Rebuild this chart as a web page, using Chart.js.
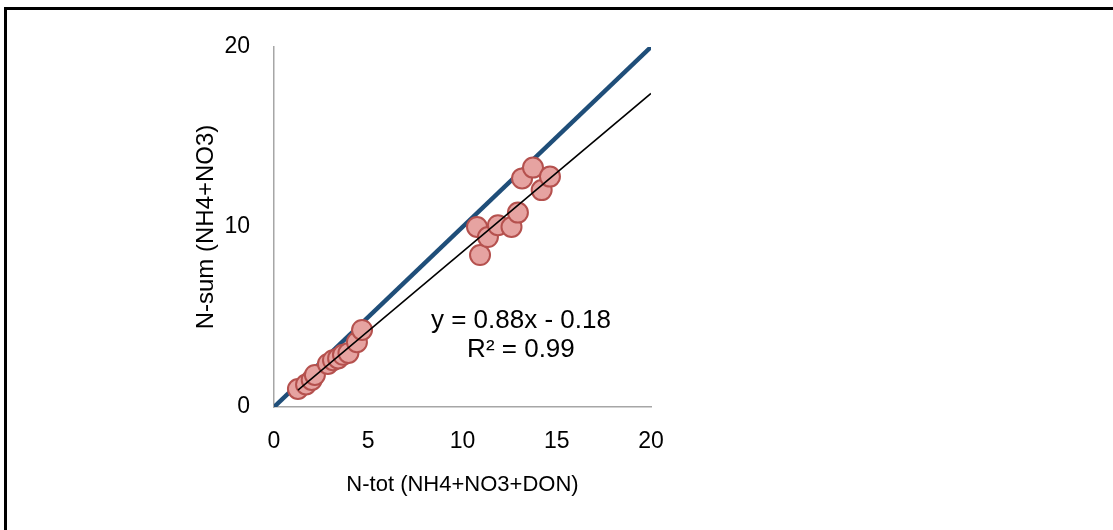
<!DOCTYPE html>
<html>
<head>
<meta charset="utf-8">
<script src="https://cdn.jsdelivr.net/npm/chart.js@4.4.1/dist/chart.umd.min.js"></script>
<style>
  html, body { margin: 0; padding: 0; background: #fff; overflow: hidden; }
  #frame { position: absolute; left: 4px; top: 7px; width: 1200px; height: 600px; border: 3px solid #000; }
  #wrap { position: absolute; left: 0; top: 0; width: 1113px; height: 530px; }
</style>
</head>
<body>
<div id="frame"></div>
<div id="wrap"><canvas id="chart" width="1113" height="530"></canvas></div>
<script>
const FONT = "'Liberation Sans', Arial, sans-serif";

const nTot = [1.27, 1.7, 2.0, 2.17, 2.86, 3.13, 3.4, 3.66, 3.95, 4.4, 4.67,
              10.77, 10.93, 11.35, 11.88, 12.6, 12.94, 13.16, 13.74, 14.2, 14.64];
const nSum = [1.0, 1.25, 1.5, 1.78, 2.39, 2.6, 2.7, 2.9, 3.0, 3.6, 4.28,
              10.0, 8.44, 9.44, 10.1, 10.0, 10.8, 12.7, 13.3, 12.05, 12.8];

const xTicks = [0, 5, 10, 15, 20];
const yTicks = [0, 10, 20];

const trendSlope = 0.88;
const trendIntercept = -0.18;
const trendText = ['y = 0.88x - 0.18', 'R² = 0.99'];

const points = nTot.map((x, i) => ({ x: x, y: nSum[i] }));
const xMin = Math.min(...nTot);
const trendPts = [xMin, 20].map(x => ({ x: x, y: trendSlope * x + trendIntercept }));
const onePts = [0, 20].map(v => ({ x: v, y: v }));

const equationLabel = {
    id: 'equationLabel',
    afterDatasetsDraw(chart) {
        const { ctx, scales } = chart;
        const cx = scales.x.getPixelForValue(13.1);
        const cy = scales.y.getPixelForValue(4.8);
        ctx.save();
        ctx.fillStyle = '#000';
        ctx.font = '26px ' + FONT;
        ctx.textAlign = 'center';
        ctx.textBaseline = 'middle';
        ctx.fillText(trendText[0], cx, cy);
        ctx.fillText(trendText[1], cx, cy + 29);
        ctx.restore();
    }
};

const ctx = document.getElementById('chart').getContext('2d');
new Chart(ctx, {
    type: 'scatter',
    data: {
        datasets: [
            {
                label: 'trend',
                type: 'line',
                data: trendPts,
                borderColor: '#000',
                borderWidth: 1.5,
                pointRadius: 0,
                order: 0
            },
            {
                label: 'N-sum',
                data: points,
                backgroundColor: '#e6a3a1',
                borderColor: '#b5514e',
                borderWidth: 2,
                pointRadius: 10,
                order: 1
            },
            {
                label: '1:1',
                type: 'line',
                data: onePts,
                borderColor: '#1f4e79',
                borderWidth: 4.5,
                pointRadius: 0,
                order: 2
            }
        ]
    },
    options: {
        responsive: false,
        animation: false,
        layout: { padding: { left: 192, right: 462, top: 47, bottom: 32 } },
        plugins: {
            legend: { display: false },
            tooltip: { enabled: false }
        },
        scales: {
            x: {
                type: 'linear',
                min: 0,
                max: 20,
                afterBuildTicks: (s) => { s.ticks = xTicks.map(v => ({ value: v })); },
                afterFit: (s) => { s.height = 91; },
                grid: { display: false, drawTicks: false },
                border: { display: true, color: '#a6a6a6', width: 1.5 },
                ticks: { color: '#000', font: { family: FONT, size: 23 }, padding: 21 },
                title: {
                    display: true,
                    text: 'N-tot (NH4+NO3+DON)',
                    color: '#000',
                    font: { family: FONT, size: 22 },
                    padding: 0
                }
            },
            y: {
                type: 'linear',
                min: 0,
                max: 20,
                afterBuildTicks: (s) => { s.ticks = yTicks.map(v => ({ value: v })); },
                afterFit: (s) => { s.width = 82; },
                grid: { display: false, drawTicks: false },
                border: { display: true, color: '#a6a6a6', width: 1.5 },
                ticks: { color: '#000', font: { family: FONT, size: 23 }, padding: 24 },
                title: {
                    display: true,
                    text: 'N-sum (NH4+NO3)',
                    color: '#000',
                    font: { family: FONT, size: 24 },
                    padding: 0
                }
            }
        }
    },
    plugins: [equationLabel]
});
</script>
</body>
</html>
